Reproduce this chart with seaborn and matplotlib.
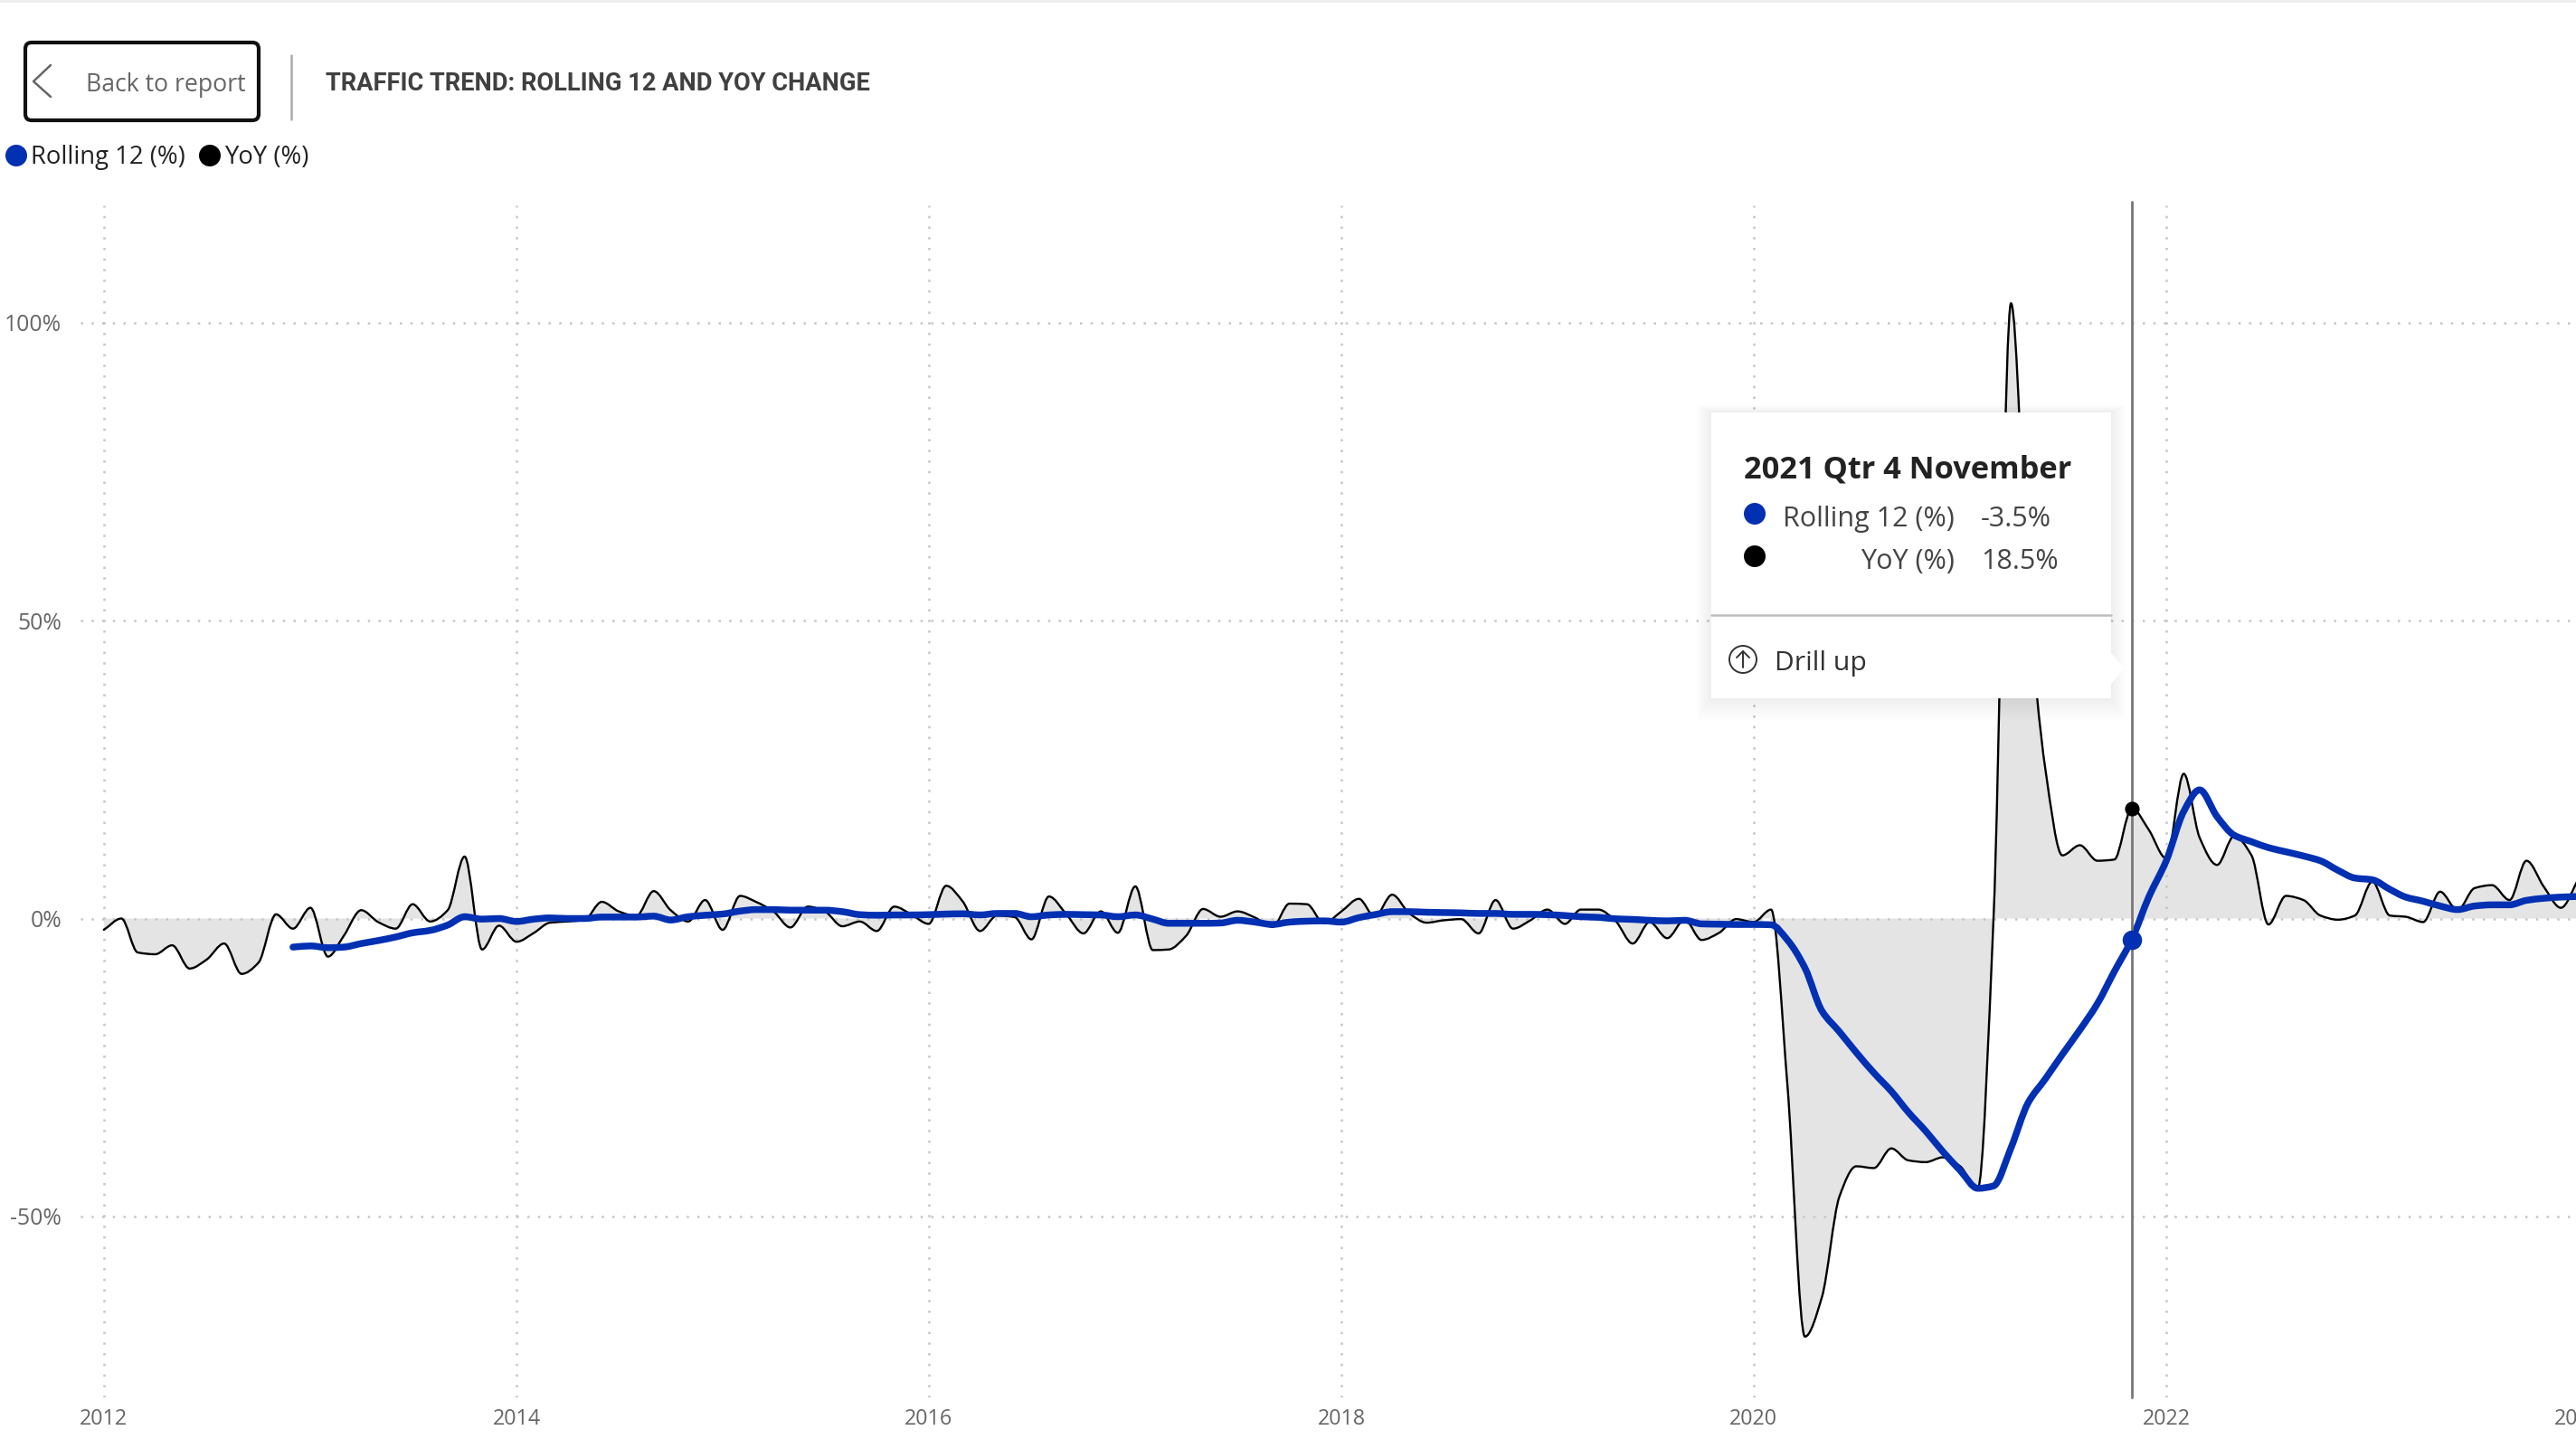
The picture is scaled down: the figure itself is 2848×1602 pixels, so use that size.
import matplotlib
matplotlib.use("Agg")
import matplotlib.pyplot as plt
import matplotlib.dates as mdates
from matplotlib.path import Path
from matplotlib.patches import PathPatch, Rectangle, Circle, FancyBboxPatch, Polygon
import numpy as np
import pandas as pd
import seaborn as sns

# monthly values, Jan 2012 onwards
yoy_vals = [-1.9, 0, -5.7, -6.0, -4.5, -8.4, -6.9, -4.2, -9.3, -7.4, 0.7, -1.7,
            1.8, -6.4, -2.9, 1.4, -0.6, -1.7, 2.4, -0.5, 1.4, 10.4, -5.2, -1.2,
            -3.9, -2.4, -0.7, -0.5, -0.25, 2.8, 1.2, 0.4, 4.6, 1.4, -0.5, 3.1,
            -1.9, 3.8, 2.8, 1.2, -1.5, 2.0, 1.2, -1.3, -0.5, -2.1, 2.0, 0.7,
            -0.9, 5.5, 2.9, -2.1, 0.5, 0.25, -3.5, 3.7, 0.7, -2.5, 1.2, -2.4,
            5.4, -5.3, -5.2, -2.9, 1.6, 0.3, 1.2, 0.15, -1.4, 2.5, 2.4, -0.8,
            1.2, 3.3, 0.3, 4.0, 0.9, -0.7, -0.3, -0.1, -2.5, 3.1, -1.7, -0.35,
            1.5, -0.9, 1.5, 1.5, -0.35, -4.2, -0.6, -3.3, -0.2, -3.6, -2.4, -0.1,
            -0.6, 1.5, -28.0, -70.2, -63.6, -46.7, -41.6, -41.9, -38.6, -40.6, -40.9, -40.1,
            -41.6, -45.4, 0.0, 103.3, 55.0, 25.0, 10.6, 12.3, 9.7, 9.9, 18.5, 14.9,
            10.1, 24.3, 13.6, 9.0, 13.8, 10.6, -1.0, 3.8, 3.1, 0.5, -0.2, 0.5,
            6.2, 0.5, 0.3, -0.6, 4.5, 1.4, 5.1, 5.6, 3.1, 9.7, 5.3, 1.8, 6.6]

# rolling 12 starts Dec 2012
rolling_vals = [-4.8, -4.6, -4.9, -4.8, -4.2, -3.7, -3.1, -2.4, -2.0, -1.1, 0.3, -0.1, 0.0,
                -0.5, -0.1, 0.1, 0.0, 0.0, 0.25, 0.25, 0.25, 0.4, -0.25, 0.3, 0.55,
                0.75, 1.25, 1.5, 1.5, 1.4, 1.4, 1.4, 1.15, 0.65, 0.55, 0.6, 0.6,
                0.65, 0.75, 0.8, 0.6, 0.85, 0.85, 0.3, 0.6, 0.7, 0.65, 0.6, 0.3,
                0.6, -0.1, -0.8, -0.8, -0.8, -0.75, -0.3, -0.6, -1.0, -0.6, -0.45, -0.4,
                -0.6, 0.15, 0.65, 1.15, 1.15, 1.05, 1.0, 0.95, 0.85, 0.85, 0.7, 0.7,
                0.65, 0.5, 0.3, 0.2, -0.05, -0.15, -0.3, -0.4, -0.3, -0.9, -0.95, -1.0,
                -1.0, -1.05, -3.6, -8.3, -15.5, -19.0, -22.5, -25.9, -29.0, -32.5, -35.7, -39.1,
                -42.3, -45.3, -44.9, -38.5, -31.0, -26.9, -22.8, -18.7, -14.3, -8.9, -3.5, 3.6,
                9.7, 18.0, 21.6, 17.1, 14.0, 12.9, 11.9, 11.2, 10.5, 9.7, 8.1, 6.8,
                6.5, 4.9, 3.6, 2.9, 2.1, 1.5, 2.1, 2.3, 2.3, 3.05, 3.4, 3.6, 3.7]

y_ticks = [-50, 0, 50, 100]
y_tick_labels = ["-50%", "0%", "50%", "100%"]
hover_month = "2021-11-01"
hover_yoy = 18.5
hover_rolling = -3.5

BLUE = "#0230b2"
W, H = 2848, 1602
PX_PER_DAY = 0.6242
PX_PER_PCT = 6.585


def smooth_path(x, y):
    # monotone cubic through the monthly values, like the report's smoothed line
    x, y = np.asarray(x), np.asarray(y)
    h = np.diff(x)
    s = np.diff(y) / h
    m = np.zeros(len(x))
    m[0], m[-1] = s[0], s[-1]
    for i in range(1, len(x) - 1):
        if s[i - 1] * s[i] > 0:
            w1 = 2 * h[i] + h[i - 1]
            w2 = h[i] + 2 * h[i - 1]
            m[i] = (w1 + w2) / (w1 / s[i - 1] + w2 / s[i])
    verts = [(x[0], y[0])]
    codes = [Path.MOVETO]
    for i in range(len(h)):
        verts.append((x[i] + h[i] / 3, y[i] + m[i] * h[i] / 3))
        verts.append((x[i + 1] - h[i] / 3, y[i + 1] - m[i + 1] * h[i] / 3))
        verts.append((x[i + 1], y[i + 1]))
        codes += [Path.CURVE4] * 3
    return verts, codes


def curve_from_line(ax, line, lw, zorder):
    # swap seaborn's straight segments for the curve through the same points
    xy = line.get_xydata()
    xy = xy[~np.isnan(xy[:, 1])]
    color = line.get_color()
    line.remove()
    verts, codes = smooth_path(xy[:, 0], xy[:, 1])
    ax.add_patch(PathPatch(Path(verts, codes), fc="none", ec=color, lw=lw,
                           zorder=zorder, capstyle="round", joinstyle="round"))
    return verts, codes


sns.set_theme(style="white", rc={"axes.axisbelow": "line"})
plt.rcParams["font.family"] = ["Open Sans", "DejaVu Sans"]

months = pd.date_range("2012-01-01", periods=len(yoy_vals), freq="MS")
yoy_df = pd.DataFrame({"month": months, "yoy": yoy_vals})
rolling_df = pd.DataFrame({"month": months[-len(rolling_vals):], "rolling": rolling_vals})
hover_df = pd.DataFrame({"month": pd.to_datetime([hover_month]),
                         "yoy": [hover_yoy], "rolling": [hover_rolling]})

fig = plt.figure(figsize=(W / 200, H / 200), dpi=200)
# right edge runs past the canvas so the 2024 label gets cut off as in the report
left, right, top, bottom = 89, 2860, 227, 1545
ax = fig.add_axes([left / W, 1 - bottom / H, (right - left) / W, (bottom - top) / H])

sns.lineplot(data=yoy_df, x="month", y="yoy", color="black", errorbar=None, ax=ax)
verts, codes = curve_from_line(ax, ax.lines[-1], 0.85, 3)

# grey area between the yoy curve and zero
x_start, x_end = verts[0][0], verts[-1][0]
fill_verts = verts + [(x_end, 0), (x_start, 0), (x_start, 0)]
fill_codes = codes + [Path.LINETO, Path.LINETO, Path.CLOSEPOLY]
ax.add_patch(PathPatch(Path(fill_verts, fill_codes), fc="#e4e4e4", ec="none", zorder=1))

sns.lineplot(data=rolling_df, x="month", y="rolling", color=BLUE, errorbar=None, ax=ax)
curve_from_line(ax, ax.lines[-1], 2.7, 4)

# axes limits from the pixel scale of the picture
d0 = mdates.date2num(pd.Timestamp("2012-01-01"))
ax.set_xlim(d0 - (114.8 - left) / PX_PER_DAY, d0 + (right - 114.8) / PX_PER_DAY)
y_min, y_max = -(bottom - 1015.5) / PX_PER_PCT, (1015.5 - top) / PX_PER_PCT
ax.set_ylim(y_min, y_max)

ax.xaxis.set_major_locator(mdates.YearLocator(2))
ax.xaxis.set_major_formatter(mdates.DateFormatter("%Y"))
ax.set_yticks(y_ticks)
ax.set_yticklabels(y_tick_labels)
ax.set_xlabel("")
ax.set_ylabel("")
ax.tick_params(axis="x", length=0, pad=4.3, labelsize=8.4, labelcolor="#666666")
ax.tick_params(axis="y", length=0, pad=7.5, labelsize=8.9, labelcolor="#666666")
ax.grid(True, color="#c6c6c6", lw=0.9, linestyle=(0, (1, 3.7)))
sns.despine(ax=ax, left=True, bottom=True, top=True, right=True)
ax.patch.set_alpha(0)

# hover line and the two points on it
hover_x = mdates.date2num(pd.Timestamp(hover_month))
ax.plot([hover_x, hover_x], [y_min, y_max + 0.6], color="#777777", lw=1.0, zorder=5, clip_on=False)
sns.scatterplot(data=hover_df, x="month", y="yoy", color="black", s=34, linewidth=0, zorder=6, ax=ax)
sns.scatterplot(data=hover_df, x="month", y="rolling", color=BLUE, s=60, linewidth=0, zorder=6, ax=ax)
ax.set_xlabel("")
ax.set_ylabel("")

# everything around the chart is placed in picture pixels
ui = fig.add_axes([0, 0, 1, 1], zorder=10)
ui.set_xlim(0, W)
ui.set_ylim(H, 0)
ui.axis("off")
ui.patch.set_alpha(0)

ui.add_patch(Rectangle((0, 0), W, 3, fc="#eeeeee", ec="none"))

# back button
ui.add_patch(FancyBboxPatch((28, 47), 258, 86, boxstyle="round,pad=0,rounding_size=7",
                            fc="white", ec="#111111", lw=1.5))
ui.plot([56, 37, 56], [72, 90, 107], color="#666666", lw=0.9)
ui.text(95, 94, "Back to report", fontsize=9.6, color="#666666", va="center")
ui.plot([322, 322], [61, 132], color="#aaaaaa", lw=0.9)
ui.text(360, 92, "TRAFFIC TREND: ROLLING 12 AND YOY CHANGE", fontsize=9.8, color="#404040",
        va="center", family="Roboto", weight="bold")

# legend
ui.add_patch(Circle((18, 172), 12, fc=BLUE, ec="none"))
ui.text(34, 174, "Rolling 12 (%)", fontsize=9.9, color="#222222", va="center")
ui.add_patch(Circle((232, 172), 12, fc="black", ec="none"))
ui.text(248, 174, "YoY (%)", fontsize=9.9, color="#222222", va="center")

# tooltip with a soft shadow
for i in range(1, 9):
    ui.add_patch(Rectangle((1892 - i * 2, 456 - i), 442 + i * 4, 316 + i * 4,
                           fc="black", ec="none", alpha=0.009))
ui.add_patch(Polygon([(1892, 456), (2334, 456), (2334, 722), (2349, 739), (2334, 756),
                      (2334, 772), (1892, 772)], fc="white", ec="none"))
ui.plot([1892, 2334], [680, 680], color="#bdbdbd", lw=0.9)
ui.text(1928, 519, "2021 Qtr 4 November", fontsize=12.4, weight="bold", color="#222222", va="center")
ui.add_patch(Circle((1940, 568), 12, fc=BLUE, ec="none"))
ui.add_patch(Circle((1940, 615), 12, fc="black", ec="none"))
ui.text(2161, 574, "Rolling 12 (%)", fontsize=11, color="#444444", va="center", ha="right")
ui.text(2161, 621, "YoY (%)", fontsize=11, color="#444444", va="center", ha="right")
ui.text(2190, 574, "-3.5%", fontsize=11, color="#444444", va="center")
ui.text(2190, 621, "18.5%", fontsize=11, color="#444444", va="center")
ui.add_patch(Circle((1927, 729), 15, fc="none", ec="#333333", lw=0.7))
ui.plot([1927, 1927], [738, 720], color="#333333", lw=0.7)
ui.plot([1920, 1927, 1934], [727, 720, 727], color="#333333", lw=0.7)
ui.text(1962, 733, "Drill up", fontsize=10.8, color="#333333", va="center")

plt.savefig("out.png", dpi=200)
